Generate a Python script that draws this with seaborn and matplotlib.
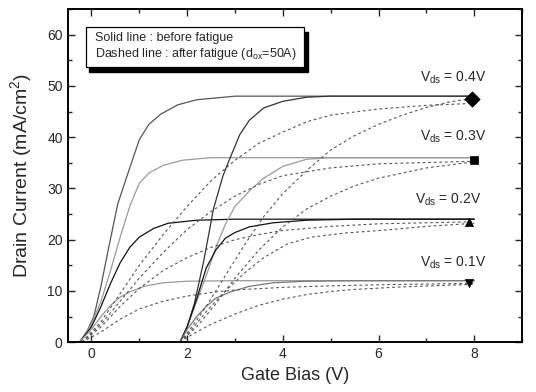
import numpy as np
import pandas as pd
import matplotlib
matplotlib.use("Agg")
import matplotlib.pyplot as plt
from matplotlib.patches import Rectangle
from matplotlib.ticker import MultipleLocator
import seaborn as sns

# ---------------- data ----------------
# Group A (threshold near -0.25 V), before fatigue
xA04 = [-0.25, -0.1, 0.05, 0.2, 0.35, 0.55, 0.8, 1.0, 1.2, 1.45, 1.8, 2.2, 3.0, 8.0]
yA04 = [0, 2, 5, 11, 18, 27, 34, 39.5, 42.5, 44.5, 46.3, 47.3, 48, 48]
xA03 = [-0.25, 0.0, 0.2, 0.4, 0.6, 0.8, 1.0, 1.2, 1.5, 1.9, 2.5, 8.0]
yA03 = [0, 3.5, 8, 14, 20.5, 26.5, 31, 33, 34.5, 35.5, 36, 36]
xA02 = [-0.25, 0.0, 0.2, 0.4, 0.6, 0.8, 1.0, 1.3, 1.6, 2.2, 3.0, 8.0]
yA02 = [0, 3, 7, 11.5, 15.5, 18.5, 20.5, 22.2, 23.2, 23.8, 24, 24]
xA01 = [-0.25, 0.0, 0.2, 0.4, 0.6, 0.8, 1.1, 1.5, 2.0, 3.0, 8.0]
yA01 = [0, 2.5, 5, 7.2, 8.8, 9.8, 10.9, 11.6, 11.9, 12, 12]
# Group B (threshold near 1.85 V), before fatigue
xB04 = [1.85, 2.0, 2.15, 2.35, 2.55, 2.75, 2.9, 3.1, 3.3, 3.6, 4.0, 4.5, 5.0, 8.0]
yB04 = [0, 3, 7.5, 16, 26, 32.5, 36, 40.5, 43.3, 45.7, 47, 47.8, 48, 48]
xB03 = [1.85, 2.0, 2.2, 2.4, 2.6, 2.8, 3.0, 3.3, 3.6, 4.0, 4.5, 5.0, 8.0]
yB03 = [0, 3, 8, 13, 18.5, 23, 26.5, 29.5, 32, 34.3, 35.7, 36, 36]
xB02 = [1.85, 2.0, 2.2, 2.4, 2.6, 2.8, 3.0, 3.3, 3.8, 4.5, 5.5, 8.0]
yB02 = [0, 3, 8.5, 14.5, 18, 20.3, 21.4, 22.5, 23.3, 23.8, 24, 24]
xB01 = [1.85, 2.0, 2.2, 2.4, 2.6, 2.9, 3.3, 3.8, 4.5, 5.5, 8.0]
yB01 = [0, 2.5, 5, 7, 8.6, 9.8, 10.9, 11.6, 11.9, 12, 12]
# After fatigue
xA04f = [-0.2, 0.2, 0.6, 1.0, 1.5, 2.0, 2.5, 3.0, 3.5, 4.0, 4.5, 5.0, 6.0, 7.0, 8.0]
yA04f = [0, 4, 9.5, 15, 21, 26.5, 31.5, 35.5, 38.8, 41, 43, 44.3, 45.5, 46.2, 46.6]
xB04f = [1.85, 2.1, 2.4, 2.8, 3.2, 3.6, 4.0, 4.5, 5.0, 5.5, 6.0, 6.5, 7.0, 7.5, 8.0]
yB04f = [0, 3, 7, 13, 19, 24.5, 29, 33.5, 37.5, 40.3, 42.5, 44.3, 45.8, 46.9, 47.6]
xA03f = [-0.2, 0.2, 0.6, 1.0, 1.5, 2.0, 2.5, 3.0, 3.5, 4.0, 5.0, 6.0, 8.0]
yA03f = [0, 3.5, 8, 12.5, 17.5, 22, 25.5, 28.5, 30.8, 32.5, 34, 34.8, 35.3]
xB03f = [1.85, 2.2, 2.6, 3.0, 3.5, 4.0, 4.5, 5.0, 5.5, 6.0, 7.0, 8.0]
yB03f = [0, 3, 7.5, 12.5, 18, 22.5, 26, 28.5, 30.5, 32, 34, 35.2]
xA02f = [-0.2, 0.2, 0.6, 1.0, 1.5, 2.0, 2.5, 3.0, 3.5, 4.0, 5.0, 6.0, 8.0]
yA02f = [0, 3, 7, 10.5, 14, 16.5, 18.5, 20, 21, 21.8, 22.6, 23.1, 23.5]
xB02f = [1.85, 2.1, 2.4, 2.8, 3.2, 3.6, 4.1, 4.6, 5.3, 6.3, 7.0, 8.0]
yB02f = [0, 2.5, 6, 10, 13.5, 16.5, 19.2, 20.5, 21.3, 22, 22.6, 23.2]
xA01f = [-0.2, 0.2, 0.6, 1.0, 1.5, 2.0, 2.5, 3.0, 4.0, 5.0, 6.0, 8.0]
yA01f = [0, 2, 4.5, 6.5, 8, 9, 9.7, 10.2, 10.7, 11, 11.2, 11.5]
xB01f = [1.85, 2.1, 2.5, 3.0, 3.5, 4.0, 4.5, 5.0, 5.5, 6.5, 8.0]
yB01f = [0, 1.5, 3.5, 5.5, 7.2, 8.4, 9.3, 9.9, 10.3, 10.8, 11.3]

# end markers
vds_labels = ["0.4V", "0.3V", "0.2V", "0.1V"]
marker_x = [7.95, 8.0, 7.9, 7.9]
marker_y = [47.5, 35.5, 23.5, 11.5]
label_x = [7.55, 7.55, 7.45, 7.55]
label_y = [51.5, 40.0, 27.8, 15.5]

# ---------------- drawing ----------------
sns.set_style("ticks")
plt.rcParams['font.family'] = ['Liberation Sans', 'DejaVu Sans']

fig = plt.figure(figsize=(5.36, 3.92), dpi=100)
ax = fig.add_axes([0.126, 0.127, 0.848, 0.850])

before = [
    (xA04, yA04, "#555555"), (xA03, yA03, "#9a9a9a"), (xA02, yA02, "#111111"), (xA01, yA01, "#9a9a9a"),
    (xB04, yB04, "#333333"), (xB03, yB03, "#9a9a9a"), (xB02, yB02, "#111111"), (xB01, yB01, "#777777"),
]
after = [
    (xA04f, yA04f), (xB04f, yB04f), (xA03f, yA03f), (xB03f, yB03f),
    (xA02f, yA02f), (xB02f, yB02f), (xA01f, yA01f), (xB01f, yB01f),
]
for xs, ys, c in before:
    sns.lineplot(x=xs, y=ys, ax=ax, color=c, lw=0.9, sort=False, estimator=None)
for xs, ys in after:
    sns.lineplot(x=xs, y=ys, ax=ax, color="#555555", lw=0.8, sort=False,
                 estimator=None, linestyle=(0, (2.5, 2.5)))

mk = ["D", "s", "^", "v"]
msz = [60, 40, 35, 35]
for i in range(4):
    sns.scatterplot(x=[marker_x[i]], y=[marker_y[i]], ax=ax, marker=mk[i],
                    s=msz[i], color="black", edgecolor="black", zorder=5)
    ax.text(label_x[i], label_y[i], r"V$_{\mathregular{ds}}$ = " + vds_labels[i],
            ha="center", va="center", fontsize=10)

ax.set_xlim(-0.5, 9)
ax.set_ylim(0, 65)
ax.xaxis.set_major_locator(MultipleLocator(2))
ax.xaxis.set_minor_locator(MultipleLocator(1))
ax.yaxis.set_major_locator(MultipleLocator(10))
ax.yaxis.set_minor_locator(MultipleLocator(5))
ax.set_yticks([0, 10, 20, 30, 40, 50, 60])
ax.tick_params(which="both", direction="in", top=True, right=True, width=1.0)
ax.tick_params(which="major", length=5, labelsize=10)
ax.tick_params(which="minor", length=3)
ax.tick_params(axis="y", labelright=False)
for s in ax.spines.values():
    s.set_linewidth(1.4)
    s.set_color("black")

ax.set_xlabel("Gate Bias (V)", fontsize=13, labelpad=4)
ax.set_ylabel(r"Drain Current (mA/cm$^{\mathregular{2}}$)", fontsize=14, labelpad=9)

# note box with shadow
shadow = Rectangle((0.048, 0.812), 0.480, 0.120, transform=ax.transAxes,
                   facecolor="black", edgecolor="black", zorder=6)
box = Rectangle((0.040, 0.826), 0.480, 0.120, transform=ax.transAxes,
                facecolor="white", edgecolor="black", lw=0.9, zorder=7)
ax.add_patch(shadow)
ax.add_patch(box)
ax.text(0.060, 0.914, "Solid line : before fatigue", transform=ax.transAxes,
        fontsize=9, va="center", ha="left", zorder=8)
ax.text(0.060, 0.866, r"Dashed line : after fatigue (d$_{\mathregular{ox}}$=50A)",
        transform=ax.transAxes, fontsize=9, va="center", ha="left", zorder=8)

fig.savefig("out.png", dpi=100)
